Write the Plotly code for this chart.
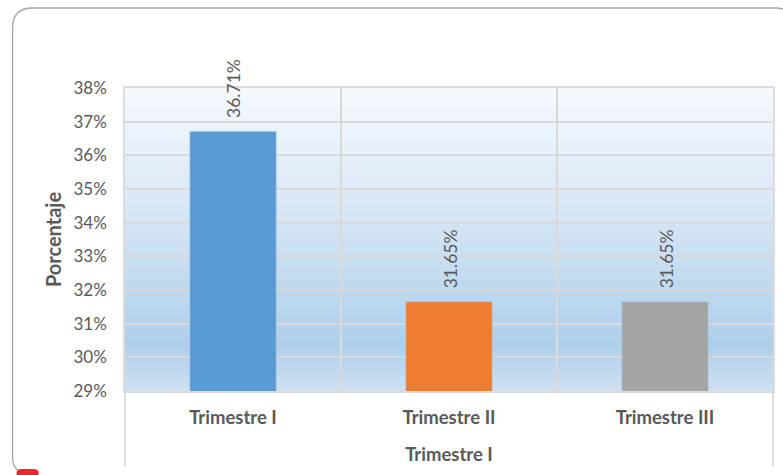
import plotly.graph_objects as go

categories = ["Trimestre I", "Trimestre II", "Trimestre III"]
values = [36.71, 31.65, 31.65]
bar_colors = ["#5b9bd5", "#ed7d31", "#a5a5a5"]
value_labels = ["36.71%", "31.65%", "31.65%"]

WIDTH, HEIGHT = 783, 475
LEFT, RIGHT, TOP, BOTTOM = 124.5, 773.0, 88.0, 391.0
TEXT = "#595959"
FONT = "Lato"


def fx(px):
    return (px - LEFT) / (RIGHT - LEFT)


def fy(py):
    return (BOTTOM - py) / (BOTTOM - TOP)


def mix(a, b, t):
    return "#" + "".join(f"{round(a[i] + (b[i] - a[i]) * t):02x}" for i in range(3))


# Plot-area backdrop: a vertical blue gradient; each band runs down to the
# plot floor and the next one paints over it, so no seams show between bands
stops = [(0.0, (245, 249, 253)), (0.36, (220, 233, 246)), (0.85, (174, 207, 234)), (1.0, (207, 224, 241))]
shapes = []
N = 120
for k in range(N):
    t = (k + 0.5) / N
    for (t0, c0), (t1, c1) in zip(stops, stops[1:]):
        if t0 <= t <= t1:
            color = mix(c0, c1, (t - t0) / (t1 - t0))
            break
    shapes.append(dict(type="rect", xref="paper", yref="paper", layer="below",
                       x0=0, x1=1, y0=0, y1=1 - k / N,
                       fillcolor=color, line_width=0))

# Outer chart frame, rounded at the left corners and open at the bottom
frame = (f"M {fx(783)} {fy(9)} L {fx(778)} {fy(8)} L {fx(32)} {fy(8)} Q {fx(12)} {fy(8)} {fx(12)} {fy(28)} "
         f"L {fx(12)} {fy(458)} Q {fx(12)} {fy(466)} {fx(18)} {fy(471)}")
shapes.append(dict(type="path", xref="paper", yref="paper", path=frame, layer="above",
                   line=dict(color="#a6a6a6", width=1.3)))

# Small red marker clipped by the lower page edge
marker = (f"M {fx(16)} {fy(476)} L {fx(16)} {fy(473)} Q {fx(16)} {fy(469)} {fx(21)} {fy(469)} "
          f"L {fx(33)} {fy(469)} Q {fx(38)} {fy(469)} {fx(38)} {fy(473)} L {fx(38)} {fy(476)} Z")
shapes.append(dict(type="path", xref="paper", yref="paper", path=marker, layer="above",
                   fillcolor="#f0242c", line_width=0))

# Category-axis side rules running down past the plot area
for px in (LEFT, RIGHT):
    shapes.append(dict(type="line", xref="paper", yref="paper", layer="above",
                       x0=fx(px), x1=fx(px), y0=fy(BOTTOM), y1=fy(467),
                       line=dict(color="#d4d4d4", width=1.5)))

fig = go.Figure(go.Bar(
    x=categories,
    y=values,
    width=0.4,
    marker=dict(color=bar_colors, line=dict(color="#a9cdea", width=0.6)),
    hoverinfo="skip",
))

# Value labels sit a little above each bar, turned to read upward
annotations = [
    dict(x=c, y=v, text=t, textangle=-90, showarrow=False, xanchor="center", yanchor="bottom",
         yshift=11, xshift=1, font=dict(family=FONT, size=17.5, color=TEXT))
    for c, v, t in zip(categories, values, value_labels)
]

fig.update_layout(
    width=WIDTH,
    height=HEIGHT,
    # the mirrored y-axis line takes a little width from the plot area, so the
    # margins sit slightly outside the intended plot edges
    margin=dict(l=125, r=8, t=TOP, b=HEIGHT - BOTTOM, pad=0),
    paper_bgcolor="#ffffff",
    plot_bgcolor="rgba(0,0,0,0)",
    showlegend=False,
    shapes=shapes,
    annotations=annotations,
    font=dict(family=FONT, color=TEXT),
    xaxis=dict(
        type="category",
        range=[-0.5, 2.5],
        tickson="boundaries",
        ticks="",
        showgrid=True,
        gridcolor="#d9d9d9",
        gridwidth=1.5,
        showline=True,
        mirror=True,
        linecolor="#dcdcdc",
        linewidth=1.5,
        tickfont=dict(family=FONT, size=18.5, color=TEXT, weight="bold"),
        ticklabelstandoff=9,
        title=dict(text="Trimestre I", standoff=21,
                   font=dict(family=FONT, size=18.5, color=TEXT, weight="bold")),
    ),
    yaxis=dict(
        range=[29, 38],
        dtick=1,
        ticksuffix="%",
        ticks="",
        showgrid=True,
        gridcolor="#d9d9d9",
        gridwidth=1.5,
        showline=True,
        mirror=True,
        linecolor="#dcdcdc",
        linewidth=1.5,
        zeroline=False,
        tickfont=dict(family=FONT, size=17, color=TEXT),
        ticklabelstandoff=13,
        title=dict(text="Porcentaje", standoff=6,
                   font=dict(family=FONT, size=20, color=TEXT, weight="bold")),
    ),
)

fig.write_html("out.html", config=dict(displayModeBar=False))
